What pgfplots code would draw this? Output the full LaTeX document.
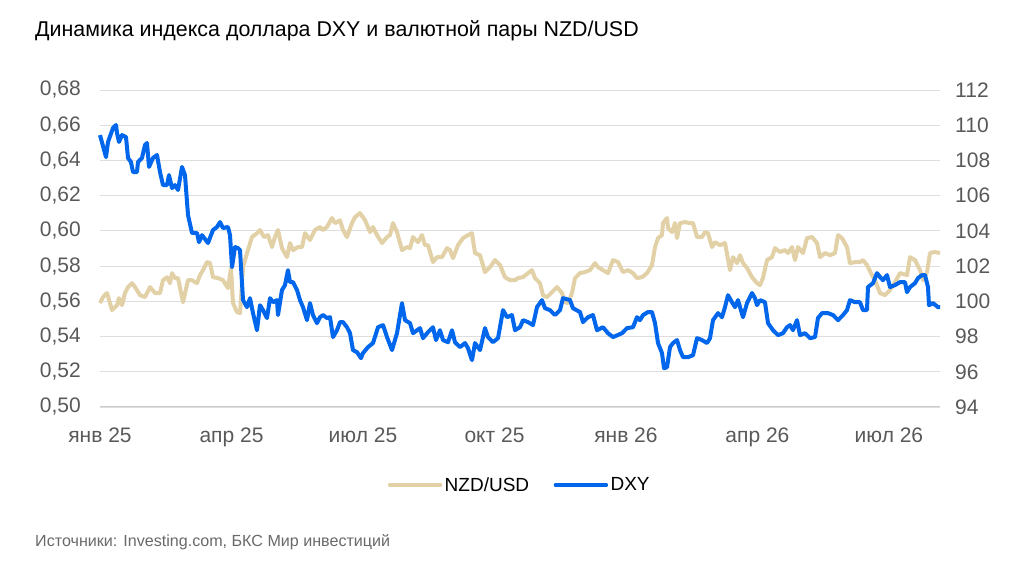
\documentclass[border=0pt]{standalone}
\usepackage{pgfplots}
\pgfplotsset{compat=1.18}
\usepackage{fontspec}
\setmainfont{Liberation Sans}
\definecolor{nzd}{RGB}{226,209,166}
\definecolor{dxy}{RGB}{0,102,235}
\definecolor{tickgray}{RGB}{89,89,89}
\definecolor{gridgray}{RGB}{222,222,222}
\definecolor{axisgray}{RGB}{200,200,200}
\definecolor{srcgray}{RGB}{105,105,105}
\begin{document}
\begin{tikzpicture}
\useasboundingbox (0,0) rectangle (1024bp,561bp);
\node[anchor=base west, inner sep=0pt, font=\fontsize{21.4bp}{25bp}\selectfont] at (35bp,524bp) {Динамика индекса доллара DXY и валютной пары NZD/USD};
\node[anchor=base west, inner sep=0pt, text=srcgray, font=\fontsize{16.1bp}{19bp}\selectfont] at (35bp,15bp) {Источники: Investing.com, БКС Мир инвестиций};
\begin{axis}[
  at={(100bp,154bp)}, anchor=south west,
  scale only axis, width=840bp, height=317bp,
  xmin=0, xmax=19.165, ymin=0.50, ymax=0.68,
  xtick={0,3,6,9,12,15,18},
  xticklabels={янв 25, апр 25, июл 25, окт 25, янв 26, апр 26, июл 26},
  ytick={0.50,0.52,0.54,0.56,0.58,0.60,0.62,0.64,0.66,0.68},
  ymajorgrids, grid style={draw=gridgray, line width=0.9bp},
  axis x line*=bottom, axis y line*=left,
  x axis line style={draw=axisgray, line width=1bp},
  y axis line style={draw=none},
  major tick length=0pt,
  /pgf/number format/assume math mode=true,
  tick label style={font=\fontsize{21bp}{24bp}\selectfont, text=tickgray, inner sep=0pt},
  yticklabel style={anchor=east, xshift=-19bp, /pgf/number format/.cd, use comma, fixed, fixed zerofill, precision=2},
  xticklabel style={anchor=north, yshift=-21bp},
  clip=false,
]
\addplot[nzd, line width=4bp, line join=round] coordinates {
(0.000,0.5590)(0.068,0.5624)(0.160,0.5647)(0.274,0.5550)(0.388,0.5578)(0.433,0.5618)(0.502,0.5578)(0.570,0.5647)
(0.639,0.5681)(0.730,0.5703)(0.799,0.5681)(0.913,0.5635)(1.027,0.5624)(1.141,0.5681)(1.255,0.5647)(1.369,0.5647)
(1.437,0.5720)(1.529,0.5737)(1.597,0.5703)(1.643,0.5760)(1.711,0.5732)(1.780,0.5732)(1.894,0.5595)(2.008,0.5720)
(2.099,0.5720)(2.213,0.5703)(2.282,0.5749)(2.350,0.5777)(2.441,0.5823)(2.510,0.5817)(2.578,0.5737)(2.692,0.5732)
(2.806,0.5720)(2.920,0.5675)(2.989,0.5789)(3.034,0.5590)(3.126,0.5539)(3.194,0.5533)(3.263,0.5794)(3.354,0.5874)
(3.468,0.5965)(3.582,0.5987)(3.650,0.6005)(3.742,0.5965)(3.833,0.5976)(3.924,0.5908)(3.993,0.5965)(4.061,0.6005)
(4.152,0.5902)(4.266,0.5851)(4.335,0.5931)(4.403,0.5891)(4.517,0.5908)(4.609,0.5908)(4.677,0.5987)(4.791,0.5948)
(4.905,0.6005)(5.019,0.6022)(5.088,0.6005)(5.179,0.6022)(5.293,0.6073)(5.362,0.6044)(5.476,0.6060)(5.544,0.6005)
(5.635,0.5965)(5.749,0.6044)(5.818,0.6078)(5.932,0.6101)(6.046,0.6061)(6.160,0.5993)(6.229,0.6022)(6.320,0.5976)
(6.434,0.5931)(6.548,0.5965)(6.616,0.5976)(6.685,0.6044)(6.776,0.5993)(6.890,0.5891)(7.004,0.5908)(7.073,0.5902)
(7.141,0.5965)(7.255,0.5936)(7.346,0.5976)(7.415,0.5919)(7.483,0.5919)(7.597,0.5823)(7.689,0.5851)(7.803,0.5851)
(7.917,0.5902)(7.985,0.5891)(8.054,0.5845)(8.168,0.5919)(8.282,0.5959)(8.396,0.5976)(8.487,0.5987)(8.556,0.5874)
(8.670,0.5862)(8.784,0.5766)(8.898,0.5794)(9.012,0.5834)(9.126,0.5806)(9.240,0.5737)(9.354,0.5720)(9.468,0.5720)
(9.537,0.5732)(9.651,0.5737)(9.765,0.5760)(9.856,0.5777)(9.925,0.5732)(10.039,0.5703)(10.107,0.5635)(10.198,0.5624)
(10.312,0.5652)(10.427,0.5681)(10.541,0.5647)(10.609,0.5595)(10.678,0.5590)(10.769,0.5647)(10.837,0.5732)(10.951,0.5760)
(11.065,0.5766)(11.179,0.5777)(11.293,0.5817)(11.362,0.5794)(11.476,0.5777)(11.590,0.5760)(11.704,0.5834)(11.818,0.5823)
(11.932,0.5766)(12.046,0.5777)(12.161,0.5760)(12.252,0.5732)(12.366,0.5737)(12.480,0.5760)(12.594,0.5806)(12.663,0.5908)
(12.731,0.5959)(12.822,0.5976)(12.845,0.6044)(12.937,0.6073)(12.959,0.6016)(13.050,0.5993)(13.119,0.6044)(13.165,0.5959)
(13.233,0.6044)(13.347,0.6050)(13.461,0.6044)(13.530,0.6044)(13.621,0.5965)(13.735,0.5965)(13.804,0.5993)(13.872,0.5987)
(13.963,0.5908)(14.032,0.5936)(14.146,0.5919)(14.260,0.5931)(14.374,0.5777)(14.442,0.5851)(14.534,0.5817)(14.602,0.5862)
(14.670,0.5817)(14.762,0.5789)(14.876,0.5737)(14.990,0.5703)(15.058,0.5692)(15.126,0.5732)(15.218,0.5834)(15.332,0.5851)
(15.400,0.5902)(15.514,0.5880)(15.628,0.5891)(15.697,0.5874)(15.788,0.5908)(15.857,0.5834)(15.925,0.5908)(16.039,0.5874)
(16.131,0.5959)(16.245,0.5965)(16.359,0.5931)(16.427,0.5851)(16.541,0.5874)(16.655,0.5862)(16.769,0.5874)(16.838,0.5976)
(16.929,0.5959)(17.043,0.5908)(17.111,0.5817)(17.225,0.5823)(17.339,0.5823)(17.408,0.5834)(17.499,0.5806)(17.613,0.5749)
(17.682,0.5720)(17.796,0.5647)(17.910,0.5635)(18.024,0.5664)(18.138,0.5709)(18.252,0.5760)(18.412,0.5749)(18.481,0.5851)
(18.595,0.5834)(18.709,0.5777)(18.777,0.5720)(18.869,0.5766)(18.937,0.5874)(19.051,0.5880)(19.165,0.5874)
};
\end{axis}
\begin{axis}[
  at={(100bp,154bp)}, anchor=south west,
  scale only axis, width=840bp, height=317bp,
  xmin=0, xmax=19.165, ymin=94, ymax=112,
  ytick={94,96,98,100,102,104,106,108,110,112},
  axis x line=none, axis y line*=right,
  y axis line style={draw=none},
  major tick length=0pt,
  /pgf/number format/assume math mode=true,
  tick label style={font=\fontsize{21bp}{24bp}\selectfont, text=tickgray, inner sep=0pt},
  yticklabel style={anchor=west, xshift=15bp},
  clip=false,
  legend style={at={(0.5,-0.246)}, anchor=center, draw=none, fill=none,
    font=\fontsize{19bp}{22bp}\selectfont, legend columns=2,
    /tikz/every even column/.append style={column sep=22bp},
    nodes={inner sep=2.5bp}},
  legend image code/.code={\draw[#1, line width=3.4bp, line cap=round] (0bp,0bp) -- (51bp,0bp);},
]
\addlegendimage{nzd}
\addlegendentry{NZD/USD}
\addplot[dxy, line width=4bp, line join=round] coordinates {
(0.000,109.44)(0.137,108.19)(0.183,109.05)(0.297,109.84)(0.365,110.01)(0.388,109.56)(0.433,109.05)(0.502,109.44)
(0.593,109.33)(0.639,108.14)(0.707,107.91)(0.753,107.34)(0.844,107.34)(0.867,107.91)(0.958,108.14)(1.027,108.88)
(1.072,108.99)(1.118,107.63)(1.209,108.14)(1.300,108.31)(1.369,107.34)(1.437,106.60)(1.529,106.60)(1.574,107.17)
(1.643,106.43)(1.711,106.60)(1.780,106.32)(1.871,107.63)(1.939,107.17)(2.008,104.90)(2.099,103.88)(2.213,103.88)
(2.259,103.36)(2.327,103.76)(2.464,103.31)(2.578,104.05)(2.669,104.22)(2.738,104.50)(2.806,104.16)(2.920,104.22)
(2.966,103.76)(3.012,101.94)(3.080,103.08)(3.149,103.02)(3.194,102.91)(3.263,100.07)(3.354,99.67)(3.422,100.18)
(3.491,99.33)(3.582,98.36)(3.650,99.78)(3.719,99.50)(3.810,99.05)(3.879,100.18)(3.947,99.95)(4.038,100.07)
(4.061,99.22)(4.152,100.64)(4.221,100.92)(4.289,101.77)(4.335,101.09)(4.403,101.09)(4.495,100.64)(4.563,100.07)
(4.632,99.67)(4.723,98.93)(4.791,99.90)(4.860,99.22)(4.951,98.76)(5.019,99.10)(5.088,99.22)(5.179,99.05)
(5.248,99.10)(5.316,97.97)(5.407,98.36)(5.476,98.82)(5.544,98.82)(5.635,98.53)(5.704,98.19)(5.772,97.23)
(5.864,97.11)(5.955,96.77)(6.000,97.06)(6.114,97.40)(6.229,97.63)(6.343,98.53)(6.457,98.65)(6.548,97.97)
(6.662,97.23)(6.776,98.19)(6.890,99.90)(6.959,98.93)(7.073,98.76)(7.141,98.19)(7.301,98.48)(7.369,97.91)
(7.483,98.25)(7.597,98.53)(7.666,97.80)(7.757,98.36)(7.826,97.80)(7.940,97.68)(8.031,98.36)(8.099,97.68)
(8.213,97.40)(8.328,97.63)(8.396,97.34)(8.487,96.66)(8.556,97.63)(8.670,97.23)(8.784,98.48)(8.852,97.97)
(8.966,97.68)(9.081,97.91)(9.195,99.50)(9.286,99.10)(9.400,99.22)(9.468,98.36)(9.582,98.53)(9.651,98.93)
(9.765,98.82)(9.879,98.65)(9.970,99.67)(10.084,100.07)(10.153,99.61)(10.267,99.50)(10.381,99.22)(10.495,99.50)
(10.563,100.18)(10.723,100.07)(10.791,99.61)(10.951,99.39)(11.020,98.82)(11.134,99.10)(11.248,99.22)(11.339,98.36)
(11.476,98.53)(11.590,98.19)(11.704,97.97)(11.910,98.19)(12.024,98.48)(12.161,98.53)(12.252,99.10)(12.320,98.93)
(12.389,99.22)(12.503,99.39)(12.594,99.39)(12.663,98.76)(12.731,97.63)(12.822,97.06)(12.868,96.20)(12.937,96.26)
(13.005,97.40)(13.073,97.63)(13.165,97.80)(13.233,97.23)(13.302,96.83)(13.416,96.83)(13.530,96.94)(13.621,97.91)
(13.735,97.80)(13.849,97.63)(13.918,97.91)(13.986,98.93)(14.100,99.33)(14.191,99.10)(14.260,99.67)(14.328,100.35)
(14.419,99.95)(14.488,99.67)(14.556,100.07)(14.670,99.10)(14.762,99.90)(14.876,100.47)(14.944,100.18)(14.990,99.78)
(15.058,100.07)(15.172,99.95)(15.241,98.76)(15.355,98.36)(15.469,98.08)(15.583,98.19)(15.674,98.53)(15.743,98.65)
(15.811,98.36)(15.902,98.93)(15.971,98.08)(16.085,98.19)(16.199,97.91)(16.313,97.97)(16.381,99.05)(16.473,99.33)
(16.609,99.33)(16.724,99.22)(16.838,98.93)(16.952,99.22)(17.043,99.50)(17.111,100.07)(17.225,99.95)(17.339,99.95)
(17.408,99.50)(17.499,99.50)(17.522,100.81)(17.636,101.03)(17.727,101.60)(17.796,101.38)(17.864,101.20)(17.955,101.49)
(18.024,100.81)(18.138,100.92)(18.252,101.09)(18.366,101.09)(18.412,100.52)(18.481,100.81)(18.595,101.03)(18.663,101.32)
(18.754,101.49)(18.823,101.49)(18.891,100.81)(18.914,99.78)(19.005,99.90)(19.119,99.67)(19.165,99.67)
};
\addlegendentry{DXY}
\end{axis}
\end{tikzpicture}
\end{document}
